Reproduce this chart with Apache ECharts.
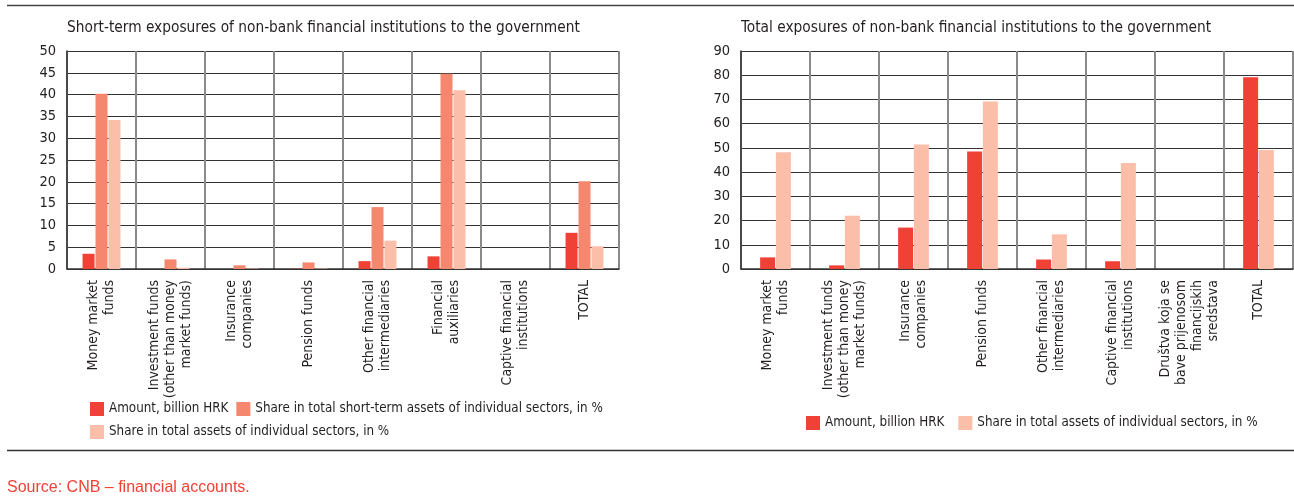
<!DOCTYPE html>
<html>
<head>
<meta charset="utf-8">
<script src="https://cdn.jsdelivr.net/npm/echarts@6/dist/echarts.min.js"></script>
<style>
  html, body { margin: 0; padding: 0; background: #fff; }
  #chart { width: 1294px; height: 497px; }
</style>
</head>
<body>
<div id="chart"></div>
<script>
// Sector categories (axis labels, multi-line)
const leftCategories = [
  'Money market\nfunds',
  'Investment funds\n(other than money\nmarket funds)',
  'Insurance\ncompanies',
  'Pension funds',
  'Other financial\nintermediaries',
  'Financial\nauxiliaries',
  'Captive financial\ninstitutions',
  'TOTAL'
];
const rightCategories = [
  'Money market\nfunds',
  'Investment funds\n(other than money\nmarket funds)',
  'Insurance\ncompanies',
  'Pension funds',
  'Other financial\nintermediaries',
  'Captive financial\ninstitutions',
  'Društva koja se\nbave prijenosom\nfinancijskih\nsredstava',
  'TOTAL'
];

// Short-term exposures
const stAmount      = [3.5, 0.0, 0.0, 0.05, 1.8, 2.9, 0, 8.3];
const stShareST     = [40.2, 2.2, 0.85, 1.5, 14.2, 44.8, 0, 20.1];
const stShareTotal  = [34.2, 0.3, 0.1, 0.1, 6.5, 41.0, 0, 5.2];

// Total exposures
const totAmount     = [4.8, 1.5, 17.1, 48.5, 3.9, 3.2, 0, 79.2];
const totShareTotal = [48.2, 22.0, 51.4, 69.2, 14.3, 43.8, 0, 49.1];

// Tick ranges
const leftMax = 50, leftStep = 5;
const rightMax = 90, rightStep = 10;

const NAME_AMOUNT = 'Amount, billion HRK';
const NAME_ST = 'Share in total short-term assets of individual sectors, in %';
const NAME_TOTAL = 'Share in total assets of individual sectors, in %';

const C_AMOUNT = '#ef4136';
const C_ST = '#f5876e';
const C_TOTAL = '#fbbea8';

const FONT = "'Liberation Sans Narrow', 'DejaVu Sans Condensed', sans-serif";
const TEXT = '#231f20';

function xAxis(gridIndex, cats) {
  return {
    type: 'category',
    gridIndex: gridIndex,
    data: cats,
    boundaryGap: true,
    axisLine: { show: true, lineStyle: { color: '#333', width: 1.5 } },
    axisTick: { show: false },
    splitLine: { show: true, lineStyle: { color: '#8a8a8a', width: 2 } },
    axisLabel: {
      interval: 0,
      rotate: 90,
      margin: 11,
      fontFamily: FONT,
      fontSize: 14,
      lineHeight: 16,
      color: TEXT
    }
  };
}

function yAxis(gridIndex, max, step) {
  return {
    type: 'value',
    gridIndex: gridIndex,
    min: 0,
    max: max,
    interval: step,
    axisLine: { show: true, lineStyle: { color: '#333', width: 1.5 } },
    axisTick: { show: false },
    splitLine: { show: true, lineStyle: { color: '#333', width: 1.2 } },
    axisLabel: {
      margin: 11,
      fontFamily: FONT,
      fontSize: 14.5,
      color: TEXT
    }
  };
}

function bar(name, data, color, xi, width, gap) {
  return {
    type: 'bar',
    name: name,
    xAxisIndex: xi,
    yAxisIndex: xi,
    data: data,
    barWidth: width,
    barGap: gap,
    itemStyle: { color: color },
    emphasis: { disabled: true },
    animation: false
  };
}

const legendText = { fontFamily: FONT, fontSize: 13.3, color: TEXT };

const titleText = { fontFamily: FONT, fontSize: 15.3, fontWeight: 'normal', color: TEXT };

const option = {
  animation: false,
  backgroundColor: '#fff',
  title: [
    {
      text: 'Short-term exposures of non-bank financial institutions to the government',
      left: 67, top: 21, padding: 0,
      textStyle: titleText
    },
    {
      text: 'Total exposures of non-bank financial institutions to the government',
      left: 741, top: 21, padding: 0,
      textStyle: titleText
    }
  ],
  grid: [
    { left: 67, top: 51, width: 552, height: 218 },
    { left: 741, top: 51, width: 552, height: 218 }
  ],
  xAxis: [xAxis(0, leftCategories), xAxis(1, rightCategories)],
  yAxis: [yAxis(0, leftMax, leftStep), yAxis(1, rightMax, rightStep)],
  legend: [
    {
      data: [NAME_AMOUNT, NAME_ST],
      left: 90, top: 402, padding: 0, width: 700,
      itemWidth: 14, itemHeight: 14, itemGap: 8,
      icon: 'rect', textStyle: legendText, selectedMode: false
    },
    {
      data: [NAME_TOTAL],
      left: 90, top: 425, padding: 0, width: 700,
      itemWidth: 14, itemHeight: 14,
      icon: 'rect', textStyle: legendText, selectedMode: false
    },
    {
      data: [NAME_AMOUNT, NAME_TOTAL],
      left: 806, top: 416, padding: 0, width: 700,
      itemWidth: 14, itemHeight: 14, itemGap: 14,
      icon: 'rect', textStyle: legendText, selectedMode: false
    }
  ],
  series: [
    bar(NAME_AMOUNT, stAmount, C_AMOUNT, 0, 12, '8%'),
    bar(NAME_ST, stShareST, C_ST, 0, 12, '8%'),
    bar(NAME_TOTAL, stShareTotal, C_TOTAL, 0, 12, '8%'),
    bar(NAME_AMOUNT, totAmount, C_AMOUNT, 1, 15, '5%'),
    bar(NAME_TOTAL, totShareTotal, C_TOTAL, 1, 15, '5%')
  ],
  graphic: [
    { type: 'line', shape: { x1: 7, y1: 5.5, x2: 1294, y2: 5.5 }, style: { stroke: '#444', lineWidth: 1.5 } },
    { type: 'line', shape: { x1: 7, y1: 450.5, x2: 1294, y2: 450.5 }, style: { stroke: '#333', lineWidth: 1.5 } },
    {
      type: 'text', left: 7, top: 480,
      style: { text: 'Source: CNB – financial accounts.', fill: '#ef4136',
               font: "16px 'Liberation Sans', Arial, sans-serif" }
    }
  ]
};

const chart = echarts.init(document.getElementById('chart'), null, { renderer: 'canvas' });
chart.setOption(option);
</script>
</body>
</html>
